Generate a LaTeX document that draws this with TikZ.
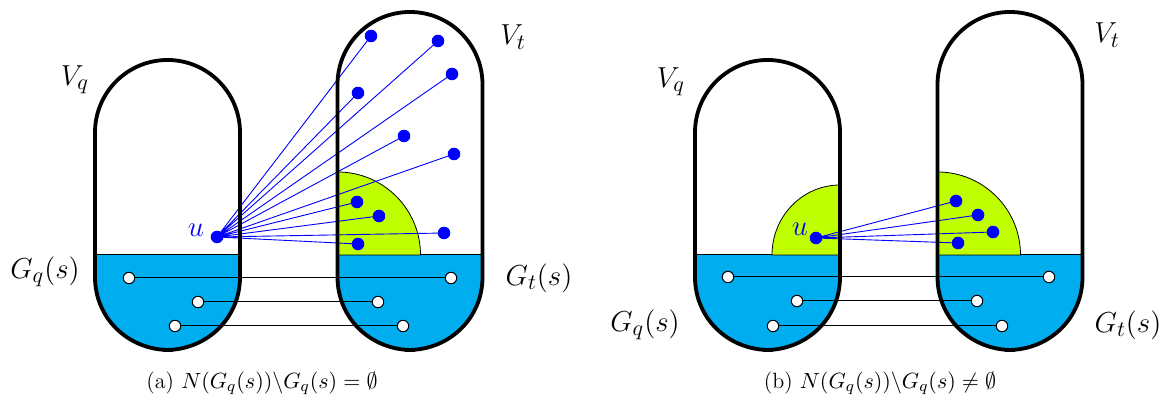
\documentclass[tikz,border=0pt]{standalone}
\usepackage{xcolor}
\definecolor{setcyan}{RGB}{0,174,239}
\definecolor{nbgreen}{RGB}{191,255,0}

% outline of a vertex set: centre x, top y
\newcommand{\capsule}[2]{%
  \draw[setline] (#1-72.5,123) -- (#1-72.5,#2-72.5) arc[start angle=180, end angle=0, radius=72.5]
    -- (#1+72.5,123) .. controls (#1+72.5,82) and (#1+40,51) .. (#1,50)
    .. controls (#1-40,51) and (#1-72.5,82) .. cycle;
  \draw[line width=2.3pt] (#1-5,#2) -- (#1+5,#2) (#1-5,50) -- (#1+5,50);}
% cyan part G(s) of a vertex set: centre x
\newcommand{\setbottom}[1]{%
  \fill[setcyan] (#1-72.5,145) -- (#1-72.5,123) .. controls (#1-72.5,82) and (#1-40,51) .. (#1,50)
    .. controls (#1+40,51) and (#1+72.5,82) .. (#1+72.5,123) -- (#1+72.5,145) -- cycle;
  \draw[line width=0.5pt] (#1-72.5,145) -- (#1+72.5,145);}

\begin{document}
\begin{tikzpicture}[x=0.0175cm, y=0.0175cm,
    setline/.style={line width=1.9pt},
    bdot/.style={circle, fill=blue, inner sep=0pt, minimum size=2.2mm},
    wdot/.style={circle, draw=black, fill=white, line width=0.5pt, inner sep=0pt, minimum size=2mm},
    edgeb/.style={blue, line width=0.45pt},
    match/.style={black, line width=0.5pt},
    lab/.style={font=\fontsize{15.2}{18}\selectfont},
    capt/.style={font=\fontsize{11}{13}\selectfont}]
  \useasboundingbox (0,0) rectangle (1166,400);

  % (a)
  \setbottom{167.5}
  \setbottom{410}
  \filldraw[fill=nbgreen, draw=black, line width=0.4pt] (337.5,145) -- (337.5,228)
    arc[start angle=90, end angle=0, radius=83] -- cycle;

  \coordinate (ua) at (217,163);
  \coordinate (a1) at (371,364);
  \coordinate (a2) at (438,359);
  \coordinate (a3) at (452,326);
  \coordinate (a4) at (358,307);
  \coordinate (a5) at (404,264);
  \coordinate (a6) at (454,246);
  \coordinate (a7) at (357,198);
  \coordinate (a8) at (379,184);
  \coordinate (a9) at (444,167);
  \coordinate (a10) at (358,156);
  \coordinate (pa1) at (129,122);
  \coordinate (qa1) at (451,122);
  \coordinate (pa2) at (198,98);
  \coordinate (qa2) at (378,98);
  \coordinate (pa3) at (175,74);
  \coordinate (qa3) at (403,74);

  \draw[edgeb] (ua) -- (a1) (ua) -- (a2) (ua) -- (a3) (ua) -- (a4) (ua) -- (a5)
    (ua) -- (a6) (ua) -- (a7) (ua) -- (a8) (ua) -- (a9) (ua) -- (a10);
  \draw[match] (pa1) -- (qa1) (pa2) -- (qa2) (pa3) -- (qa3);

  \capsule{167.5}{340}
  \capsule{410}{388}

  \foreach \d in {ua,a1,a2,a3,a4,a5,a6,a7,a8,a9,a10} \node[bdot] at (\d) {};
  \foreach \d in {pa1,qa1,pa2,qa2,pa3,qa3} \node[wdot] at (\d) {};

  \node[lab, text=blue] (ula) at (196,170) {$u$};
  \node[lab] (vqa) at (75,320) {$V_q$};
  \node[lab] (vta) at (513,363) {$V_t$};
  \node[lab] (gqa) at (45,128) {$G_q(s)$};
  \node[lab] (gta) at (539,122) {$G_t(s)$};
  \node[capt] (capa) at (262,17) {(a) $N(G_q(s))\backslash G_q(s)=\emptyset$};

  % (b)
  \setbottom{767.5}
  \setbottom{1010}
  \filldraw[fill=nbgreen, draw=black, line width=0.4pt] (840,145) -- (772,145)
    arc[start angle=180, end angle=90, x radius=68, y radius=70] -- cycle;
  \filldraw[fill=nbgreen, draw=black, line width=0.4pt] (937.5,145) -- (937.5,228)
    arc[start angle=90, end angle=0, radius=83] -- cycle;

  \coordinate (ub) at (816,162);
  \coordinate (b1) at (956,199);
  \coordinate (b2) at (978,185);
  \coordinate (b3) at (993,168);
  \coordinate (b4) at (958,157);
  \coordinate (pb1) at (728,123);
  \coordinate (qb1) at (1049,123);
  \coordinate (pb2) at (797,99);
  \coordinate (qb2) at (977,99);
  \coordinate (pb3) at (773,74);
  \coordinate (qb3) at (1002,74);

  \draw[edgeb] (ub) -- (b1) (ub) -- (b2) (ub) -- (b3) (ub) -- (b4);
  \draw[match] (pb1) -- (qb1) (pb2) -- (qb2) (pb3) -- (qb3);

  \capsule{767.5}{340}
  \capsule{1010}{388}

  \foreach \d in {ub,b1,b2,b3,b4} \node[bdot] at (\d) {};
  \foreach \d in {pb1,qb1,pb2,qb2,pb3,qb3} \node[wdot] at (\d) {};

  \node[lab, text=blue] (ulb) at (800,171) {$u$};
  \node[lab] (vqb) at (671,318) {$V_q$};
  \node[lab] (vtb) at (1107,365) {$V_t$};
  \node[lab] (gqb) at (645,75) {$G_q(s)$};
  \node[lab] (gtb) at (1128,75) {$G_t(s)$};
  \node[capt] (capb) at (880,17) {(b) $N(G_q(s))\backslash G_q(s)\neq\emptyset$};
\end{tikzpicture}
\end{document}
